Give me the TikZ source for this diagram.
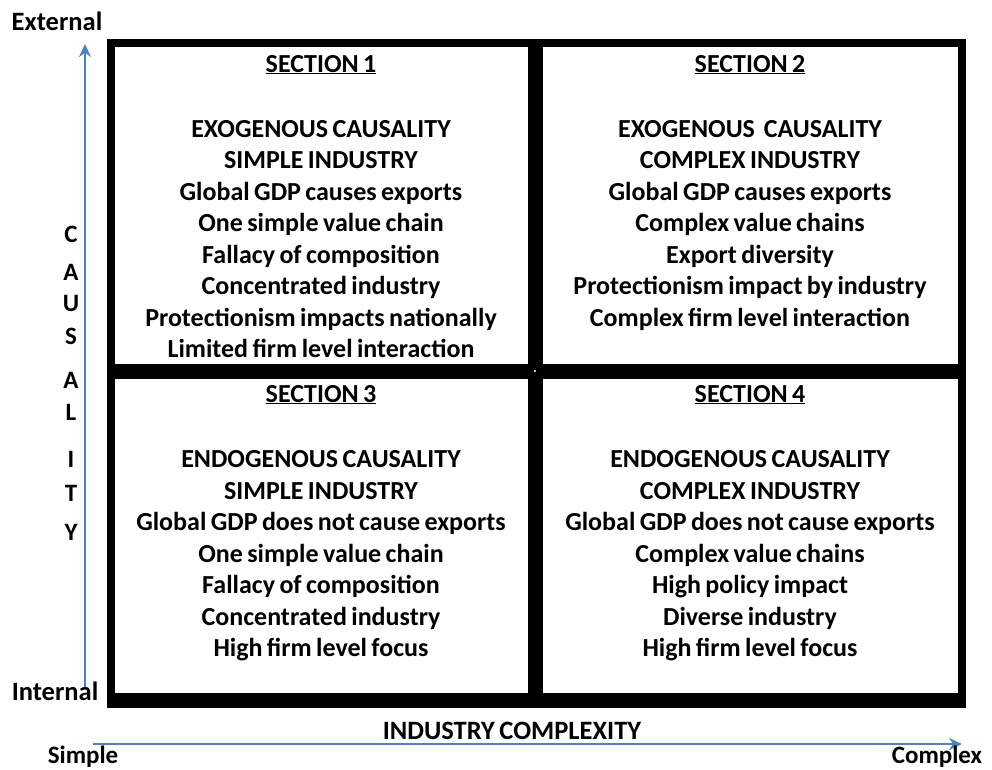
\documentclass[tikz,border=0pt]{standalone}
\usepackage{fontspec}
\setmainfont{Carlito}[WordSpace=0.75]
\usetikzlibrary{arrows.meta}
\definecolor{axisblue}{RGB}{79,129,189}
\tikzset{
  body/.style={font=\fontsize{26}{31.5}\selectfont\bfseries, anchor=base, inner sep=0pt},
  lab/.style={font=\fontsize{26.5}{30}\selectfont\bfseries, anchor=base, inner sep=0pt},
  endlab/.style={font=\fontsize{25}{30}\selectfont\bfseries, anchor=base, inner sep=0pt},
  letter/.style={font=\fontsize{25}{28}\selectfont\bfseries, anchor=base, inner sep=0pt},
  frame/.style={line width=8pt, line join=miter},
  divider/.style={line width=15pt},
  axis/.style={draw=axisblue, line width=2.2pt, -{Stealth[length=13pt,width=12pt]}}
}
\begin{document}
\begin{tikzpicture}[x=1pt,y=-1pt]
\useasboundingbox (0,0) rectangle (992,769);
% frame
\draw[frame] (111,43) rectangle (962,700);
\draw[divider] (107,700) -- (966,700);
\draw[divider] (535,39) -- (535,704);
\draw[divider] (107,371) -- (966,371);
\fill[white] (535,371) circle (1.2pt);
% axes
\coordinate (vs) at (85,688);
\coordinate (ve) at (85,44);
\coordinate (hs) at (93,744);
\coordinate (he) at (962,744);
\draw[axis] (vs) -- (ve);
\draw[axis] (hs) -- (he);
% axis labels
\node[lab] (ext) at (57,30) {External};
\node[lab] (int) at (55,700) {Internal};
\node[endlab] (simp) at (83,763) {Simple};
\node[endlab] (comp) at (937,763) {Complex};
\node[lab] (ic) at (512,739) {INDUSTRY COMPLEXITY};
% CAUSALITY
\foreach \l/\y [count=\i] in {C/242,A/280,U/311,S/344,A/388,L/420,I/467,T/501,Y/540}
  \node[letter] (cl\i) at (71,\y) {\l};
% Section 1
\node[body] (s1t) at (321,72) {\underline{SECTION 1}};
\foreach \t [count=\i] in {EXOGENOUS CAUSALITY, SIMPLE INDUSTRY, Global GDP causes exports, One simple value chain, Fallacy of composition, Concentrated industry, Protectionism impacts nationally, Limited firm level interaction}
  \node[body] (s1l\i) at (321,{137+31.5*(\i-1)}) {\t};
% Section 2
\node[body] (s2t) at (750,72) {\underline{SECTION 2}};
\foreach \t [count=\i] in {EXOGENOUS\ \ CAUSALITY, COMPLEX INDUSTRY, Global GDP causes exports, Complex value chains, Export diversity, Protectionism impact by industry, Complex firm level interaction}
  \node[body] (s2l\i) at (750,{137+31.5*(\i-1)}) {\t};
% Section 3
\node[body] (s3t) at (321,402) {\underline{SECTION 3}};
\foreach \t [count=\i] in {ENDOGENOUS CAUSALITY, SIMPLE INDUSTRY, Global GDP does not cause exports, One simple value chain, Fallacy of composition, Concentrated industry, High firm level focus}
  \node[body] (s3l\i) at (321,{467.5+31.5*(\i-1)}) {\t};
% Section 4
\node[body] (s4t) at (750,402) {\underline{SECTION 4}};
\foreach \t [count=\i] in {ENDOGENOUS CAUSALITY, COMPLEX INDUSTRY, Global GDP does not cause exports, Complex value chains, High policy impact, Diverse industry, High firm level focus}
  \node[body] (s4l\i) at (750,{467.5+31.5*(\i-1)}) {\t};
\end{tikzpicture}
\end{document}
